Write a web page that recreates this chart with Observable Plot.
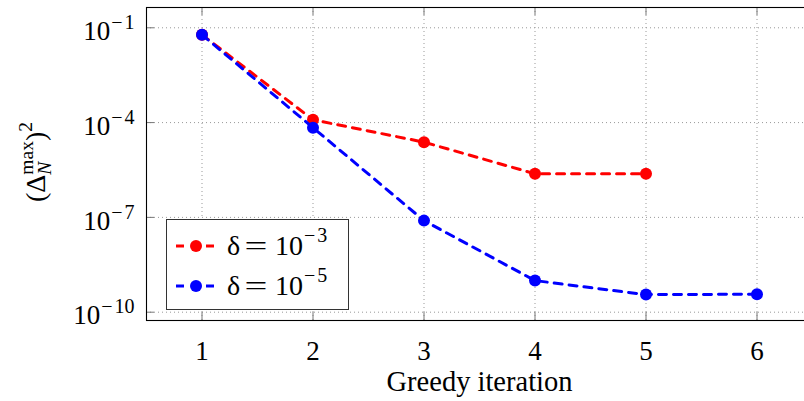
<!DOCTYPE html>
<html>
<head>
<meta charset="utf-8">
<script src="https://cdn.jsdelivr.net/npm/d3@7"></script>
<script src="https://cdn.jsdelivr.net/npm/@observablehq/plot@0.6"></script>
<style>
html, body { margin: 0; padding: 0; background: #fff; overflow: hidden; }
#wrap { position: relative; width: 804px; height: 401px; overflow: hidden; font-family: "Liberation Serif", "Times New Roman", serif; color: #000; }
#wrap svg { max-width: none !important; }
#wrap svg text { font-family: "Liberation Serif", "Times New Roman", serif; }
#legend { position: absolute; left: 166px; top: 219px; width: 183px; height: 91px; box-sizing: border-box; border: 1px solid #333; background: #fff; }
.lrow { position: absolute; left: 0; height: 30px; display: flex; align-items: center; font-size: 28px; white-space: nowrap; }
.lrow svg { display: block; }
.eq { display: inline-block; transform: scaleX(1.45); margin: 0 11px 0 8px; }
.sup { font-size: 20px; position: relative; top: -11px; margin-left: 1px; }
.sup .m { margin-right: 2px; }
</style>
</head>
<body>
<div id="wrap"><div id="legend"></div></div>
<script>
// ---- data ----
const iterations = [1, 2, 3, 4, 5, 6];
const seriesExp = [-3, -5];
const seriesColors = ["#ff0000", "#0000ff"];
const errDelta3 = [6.0e-2, 1.23e-4, 2.4e-5, 2.4e-6, 2.4e-6];
const errDelta5 = [6.0e-2, 6.9e-5, 7.9e-8, 1.0e-9, 3.6e-10, 3.7e-10];
const xTickValues = [1, 2, 3, 4, 5, 6];
const yTickExponents = [-1, -4, -7, -10];
const xAxisLabel = "Greedy iteration";

// ---- layout ----
const FONT = "'Liberation Serif', 'Times New Roman', serif";
const W = 814, H = 401, mL = 146, mR = 2, mT = 7, mB = 81;
const fw = W - mL - mR, fh = H - mT - mB;
const yTicks = yTickExponents.map(e => Math.pow(10, e));
const rows3 = errDelta3.map((v, i) => ({iter: iterations[i], value: v}));
const rows5 = errDelta5.map((v, i) => ({iter: iterations[i], value: v}));
const dash = "8,7";

const chart = Plot.plot({
  width: W, height: H,
  marginLeft: mL, marginRight: mR, marginTop: mT, marginBottom: mB,
  style: {fontFamily: FONT, fontSize: "27px", background: "white", color: "#000", overflow: "visible", maxWidth: "none"},
  x: {domain: [0.5, 6.5]},
  y: {type: "log", domain: [Math.pow(10, -10.263), Math.pow(10, -0.358)]},
  marks: [
    Plot.ruleX(xTickValues, {x: d => d, stroke: "#999", strokeDasharray: "1,3"}),
    Plot.ruleY(yTicks, {y: d => d, stroke: "#999", strokeDasharray: "1,3"}),
    Plot.ruleX(xTickValues, {x: d => d, insetTop: fh - 8, stroke: "#777"}),
    Plot.ruleX(xTickValues, {x: d => d, insetBottom: fh - 8, stroke: "#777"}),
    Plot.ruleY(yTicks, {y: d => d, insetRight: fw - 8, stroke: "#777"}),
    Plot.ruleY(yTicks, {y: d => d, insetLeft: fw - 8, stroke: "#777"}),
    Plot.axisX({ticks: xTickValues, tickSize: 0, tickPadding: 20, tickFormat: d => String(d), label: null, fontSize: 27, fontFamily: FONT, fontVariant: "normal"}),
    Plot.axisY({ticks: yTicks, tickSize: 0, tickPadding: 12, tickFormat: d => String(Math.round(-Math.log10(d))), label: null, fontSize: 27, fontFamily: FONT, fontVariant: "normal"}),
    Plot.text([xAxisLabel], {text: d => d, frameAnchor: "bottom", dy: 70.5, fontSize: 28.5, fontFamily: FONT}),
    Plot.line(rows3, {x: "iter", y: "value", stroke: seriesColors[0], strokeWidth: 3, strokeDasharray: dash}),
    Plot.dot(rows3, {x: "iter", y: "value", fill: seriesColors[0], r: 6}),
    Plot.line(rows5, {x: "iter", y: "value", stroke: seriesColors[1], strokeWidth: 3, strokeDasharray: dash}),
    Plot.dot(rows5, {x: "iter", y: "value", fill: seriesColors[1], r: 6}),
    Plot.frame({stroke: "#000", strokeWidth: 1.1})
  ]
});

const svg = d3.select(chart);
// superscript tick labels 10^{-n}
svg.selectAll('g[aria-label="y-axis tick label"] text').each(function() {
  const t = d3.select(this);
  const n = t.text();
  t.text("");
  t.append("tspan").attr("dy", "0.13em").text("10");
  t.append("tspan").attr("dy", -11).attr("dx", 1).attr("font-size", 20).text("\u2212");
  t.append("tspan").attr("dx", 2).attr("font-size", 20).text(n);
});
// y-axis label (Δ_N^max)^2
const yl = svg.append("text")
  .attr("transform", "translate(45,162) rotate(-90)")
  .attr("text-anchor", "middle")
  .attr("font-size", 28)
  .attr("font-family", FONT)
  .attr("fill", "#000");
yl.append("tspan").text("(\u0394");
yl.append("tspan").attr("font-style", "italic").attr("font-size", 19.5).attr("dy", 6).text("N");
yl.append("tspan").attr("font-size", 19.5).attr("dx", -13).attr("dy", -18).text("max");
yl.append("tspan").attr("dy", 12).text(")");
yl.append("tspan").attr("font-size", 19.5).attr("dy", -13).text("2");

const wrap = document.getElementById("wrap");
wrap.insertBefore(chart, wrap.firstChild);

// legend
const legend = document.getElementById("legend");
seriesExp.forEach((e, i) => {
  const row = document.createElement("div");
  row.className = "lrow";
  row.style.top = (11 + i * 40) + "px";
  row.innerHTML =
    `<svg width="60" height="30"><line x1="9" x2="49" y1="15" y2="15" stroke="${seriesColors[i]}" stroke-width="3" stroke-dasharray="${dash}"/>` +
    `<circle cx="29" cy="15" r="6" fill="${seriesColors[i]}"/></svg>` +
    `<span>\u03b4</span><span class="eq">=</span><span>10</span><span class="sup"><span class="m">\u2212</span>${Math.abs(e)}</span>`;
  legend.appendChild(row);
});
</script>
</body>
</html>
